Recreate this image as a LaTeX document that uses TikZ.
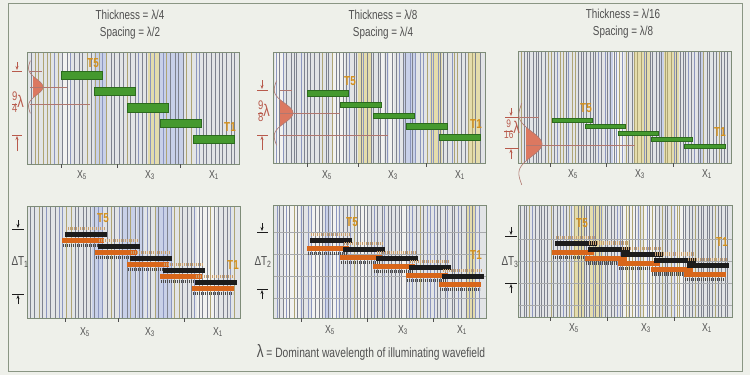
\documentclass[tikz,border=0pt]{standalone}
\usepackage{fontspec}
\setmainfont{Liberation Sans}[FakeStretch=0.76]
\usetikzlibrary{arrows.meta}
\definecolor{bgc}{HTML}{EEF0EA}
\definecolor{framec}{HTML}{8A9684}
\definecolor{panelbg}{HTML}{E2E4E6}
\definecolor{panelborder}{HTML}{7E8C78}
\definecolor{trA}{HTML}{7E828E}
\definecolor{trB}{HTML}{8C96BE}
\definecolor{trC}{HTML}{AEA474}
\definecolor{bandB}{HTML}{C8D0E8}
\definecolor{bandY}{HTML}{E4DCAC}
\definecolor{bandW}{HTML}{F2F2F0}
\definecolor{barfill}{HTML}{45992E}
\definecolor{bardraw}{HTML}{2C6A1E}
\definecolor{tcol}{HTML}{D4901C}
\definecolor{redc}{HTML}{B85A4C}
\definecolor{redfill}{HTML}{DC7860}
\definecolor{redline}{HTML}{B07870}
\definecolor{txt}{HTML}{505050}
\definecolor{blk}{HTML}{1C1C1C}
\definecolor{orb}{HTML}{D8661A}
\definecolor{fringeT}{HTML}{C8A070}
\definecolor{fringeG}{HTML}{4A4A4A}
\definecolor{gridc}{HTML}{A8AAAC}
\pgfmathdeclarerandomlist{tracecols}{{trA}{trB}{trA}{trC}{trA}}
\pgfmathdeclarerandomlist{bandcols}{{bandB}{bandY}{bandW}}
\newcommand\tracefield[6]{%
  \fill[panelbg] (#1,#2) rectangle (#3,#4);
  \pgfmathsetseed{#6}
  \foreach \k in {1,...,8}{
    \pgfmathsetmacro\bx{#1+rnd*(#3-#1-16)}
    \pgfmathsetmacro\bw{4+rnd*12}
    \pgfmathrandomitem\bc{bandcols}
    \fill[\bc] (\bx,#2) rectangle (\bx+\bw,#4);
  }
  \pgfmathtruncatemacro\nn{(#3-#1)/#5-1}
  \foreach \k in {1,...,\nn}{
    \pgfmathsetmacro\xx{#1+\k*#5+(rnd-0.5)*#5*0.5}
    \pgfmathrandomitem\cc{tracecols}
    \draw[\cc,line width=0.85pt] (\xx,#2) -- (\xx,#4);
  }
}
\newcommand\wavelet[4]{% axis x, amplitude, center y, scale
  \fill[redfill] plot[domain=-0.707:0.707,samples=30,variable=\t]
    ({#1+#2*(1-2*\t*\t)*exp(-\t*\t)},{#3+#4*\t}) -- cycle;
  \draw[redline,line width=0.6pt] plot[domain=-1.7:1.7,samples=70,variable=\t]
    ({#1+#2*(1-2*\t*\t)*exp(-\t*\t)},{#3+#4*\t});
}
\newcommand\seisstep[5]{% x, y, width, orange offset, thickness
  \draw[fringeT,line width=3.5pt,dash pattern=on 0.8pt off 1.2pt] (#1+1,#2-3.5) -- (#1+#3-2,#2-3.5);
  \fill[orb] (#1-3,#2+#4) rectangle (#1+#3-3,#2+#4+#5);
  \fill[blk] (#1,#2) rectangle (#1+#3,#2+#5);
  \draw[fringeG,line width=3.5pt,dash pattern=on 0.8pt off 1.2pt] (#1-2,#2+#4+#5+2.5) -- (#1+#3-4,#2+#4+#5+2.5);
}
\newcommand\fracl[3]{{\renewcommand\arraystretch{0.9}\fontsize{#3}{#3}\selectfont\begin{tabular}{@{}c@{}}#1\\\hline #2\end{tabular}}}
\begin{document}
\begin{tikzpicture}[x=1pt,y=-1pt,
  titletext/.style={text=txt,font=\fontsize{13}{15}\selectfont,inner sep=0pt},
  xlab/.style={text=txt,font=\fontsize{11.5}{13}\selectfont,inner sep=0pt},
  tlab/.style={text=tcol,font=\fontsize{13}{14}\bfseries\selectfont,inner sep=0pt},
  dlab/.style={text=txt,font=\fontsize{13}{14}\selectfont,inner sep=0pt},
  flab/.style={text=redc,font=\fontsize{17}{17}\selectfont,inner sep=0pt},
  bar/.style={fill=barfill,draw=bardraw,line width=0.5pt},
  box/.style={draw=panelborder,line width=1pt},
  tick/.style={draw=txt,line width=0.6pt},
  rdim/.style={draw=redc,line width=0.7pt},
  kdim/.style={draw=blk,line width=0.7pt},
  dimarrow/.style={-{Stealth[length=4pt,width=3pt]}},
  refl/.style={draw=redline,line width=0.6pt}]
\fill[bgc] (0,0) rectangle (750,375);
\useasboundingbox (0,0) rectangle (750,375);
\draw[framec,line width=0.8pt] (8,3) rectangle (742,371);

% ---------- titles ----------
\node[titletext] (th1) at (130,15) {Thickness = λ/4};
\node[titletext] (sp1) at (130,33) {Spacing = λ/2};
\node[titletext] (th2) at (383,15) {Thickness = λ/8};
\node[titletext] (sp2) at (383,33) {Spacing = λ/4};
\node[titletext] (th3) at (623,14) {Thickness = λ/16};
\node[titletext] (sp3) at (623,32) {Spacing = λ/8};

% ---------- top panel 1 ----------
\tracefield{27}{52}{239}{164}{4}{11}
\draw[box] (27,52) rectangle (239,164);
\draw[bar] (61,71) rectangle (102,79) (94,87) rectangle (135,95) (127,103) rectangle (168,112) (160,119) rectangle (201,127) (193,135) rectangle (234,143);
\wavelet{33}{10}{87}{15.5}
\draw[refl] (30,71) -- (42,71) (30,87) -- (67,87) (30,104) -- (90,104);
\node[tlab] (a5) at (93,63) {T5};
\node[tlab] (a1) at (230,127) {T1};
\draw[rdim] (12,71) -- (22,71) (12,135) -- (22,135);
\draw[rdim,dimarrow] (17,62) -- (17,70);
\draw[rdim,dimarrow] (17,151) -- (17,136);
\node[flab] (f1) at (18,104) {\fracl{9}{4}{12.5}λ};
\draw[tick] (61,164) -- (61,168) (117,164) -- (117,168) (180,164) -- (180,168);
\node[xlab] (ax5) at (82,175) {X\textsubscript{5}};
\node[xlab] (ax3) at (150,175) {X\textsubscript{3}};
\node[xlab] (ax1) at (214,175) {X\textsubscript{1}};

% ---------- top panel 2 ----------
\tracefield{273}{52}{485}{163}{3.5}{23}
\draw[box] (273,52) rectangle (485,163);
\draw[bar] (307,90) rectangle (348,96) (340,102) rectangle (381,107) (373,113) rectangle (414,118) (406,123) rectangle (447,129) (439,134) rectangle (480,140);
\wavelet{280}{13}{113}{19}
\draw[refl] (280,90) -- (292,90) (280,113) -- (340,113) (280,135) -- (388,135);
\node[tlab] (b5) at (350,81) {T5};
\node[tlab] (b1) at (476,124) {T1};
\draw[rdim] (257,90) -- (268,90) (257,135) -- (268,135);
\draw[rdim,dimarrow] (262,80) -- (262,89);
\draw[rdim,dimarrow] (262,150) -- (262,136);
\node[flab] (f2) at (264,113) {\fracl{9}{8}{12.5}λ};
\draw[tick] (307,163) -- (307,167) (358,163) -- (358,167) (426,163) -- (426,167);
\node[xlab] (bx5) at (327,175) {X\textsubscript{5}};
\node[xlab] (bx3) at (393,175) {X\textsubscript{3}};
\node[xlab] (bx1) at (460,175) {X\textsubscript{1}};

% ---------- top panel 3 ----------
\tracefield{518}{51}{731}{163}{3}{37}
\draw[box] (518,51) rectangle (731,163);
\draw[bar] (552,118) rectangle (592,122) (585,124) rectangle (625,128) (618,131) rectangle (658,135) (651,137) rectangle (692,141) (684,144) rectangle (725,148);
\wavelet{526}{16}{144}{24}
\draw[refl] (520,117) -- (539,117) (526,145) -- (635,145);
\node[tlab] (c5) at (586,108) {T5};
\node[tlab] (c1) at (720,132) {T1};
\draw[rdim] (505,117) -- (519,117) (505,148) -- (519,148);
\draw[rdim,dimarrow] (511,108) -- (511,116);
\draw[rdim,dimarrow] (511,159) -- (511,149);
\node[flab] (f3) at (512,131) {\fracl{9}{16}{11}λ};
\draw[tick] (550,163) -- (550,167) (606,163) -- (606,167) (673,163) -- (673,167);
\node[xlab] (cx5) at (573,174) {X\textsubscript{5}};
\node[xlab] (cx3) at (640,174) {X\textsubscript{3}};
\node[xlab] (cx1) at (707,174) {X\textsubscript{1}};

% ---------- bottom panel 1 ----------
\tracefield{27}{206}{240}{318}{4}{53}
\foreach \i in {0,...,4}{
  \seisstep{65+32.5*\i}{232+12*\i}{42}{6}{5}
}
\draw[box] (27,206) rectangle (240,318);
\node[tlab] (d5) at (103,218) {T5};
\node[tlab] (d1) at (233,265) {T1};
\draw[kdim] (12,229) -- (24,229) (12,294) -- (24,294);
\draw[kdim,dimarrow] (18,220) -- (18,228);
\draw[kdim,dimarrow] (18,304) -- (18,295);
\node[dlab] (dt1) at (20,262) {ΔT\textsubscript{1}};
\draw[tick] (65,318) -- (65,322) (118,318) -- (118,322) (184,318) -- (184,322);
\node[xlab] (dx5) at (85,332) {X\textsubscript{5}};
\node[xlab] (dx3) at (150,332) {X\textsubscript{3}};
\node[xlab] (dx1) at (218,332) {X\textsubscript{1}};

% ---------- bottom panel 2 ----------
\tracefield{273}{205}{486}{318}{3.5}{71}
\foreach \y in {232,254,276,298}{\draw[gridc,line width=0.4pt] (273,\y) -- (486,\y);}
\foreach \i in {0,...,4}{
  \seisstep{310+33*\i}{238+9*\i}{42}{8}{5}
}
\draw[box] (273,205) rectangle (486,318);
\node[tlab] (e5) at (352,222) {T5};
\node[tlab] (e1) at (476,255) {T1};
\draw[kdim] (257,232) -- (268,232) (257,289) -- (268,289);
\draw[kdim,dimarrow] (262,223) -- (262,231);
\draw[kdim,dimarrow] (262,299) -- (262,290);
\node[dlab] (dt2) at (263,262) {ΔT\textsubscript{2}};
\draw[tick] (301,318) -- (301,322) (367,318) -- (367,322) (433,318) -- (433,322);
\node[xlab] (ex5) at (330,330) {X\textsubscript{5}};
\node[xlab] (ex3) at (403,330) {X\textsubscript{3}};
\node[xlab] (ex1) at (462,330) {X\textsubscript{1}};

% ---------- bottom panel 3 ----------
\tracefield{518}{205}{732}{317}{3}{97}
\foreach \y in {239,261,283,305}{\draw[gridc,line width=0.4pt] (518,\y) -- (732,\y);}
\foreach \i in {0,...,4}{
  \seisstep{555+33*\i}{241+5.5*\i}{42}{9}{5}
}
\draw[box] (518,205) rectangle (732,317);
\node[tlab] (g5) at (582,223) {T5};
\node[tlab] (g1) at (722,242) {T1};
\draw[kdim] (505,236) -- (517,236) (505,283) -- (517,283);
\draw[kdim,dimarrow] (511,227) -- (511,235);
\draw[kdim,dimarrow] (511,293) -- (511,284);
\node[dlab] (dt3) at (510,262) {ΔT\textsubscript{3}};
\draw[tick] (550,317) -- (550,321) (607,317) -- (607,321) (674,317) -- (674,321);
\node[xlab] (gx5) at (574,328) {X\textsubscript{5}};
\node[xlab] (gx3) at (646,328) {X\textsubscript{3}};
\node[xlab] (gx1) at (707,328) {X\textsubscript{1}};

% ---------- footer ----------
\node[text=txt,font=\fontsize{13.5}{14}\selectfont,inner sep=0pt] (foot) at (371,352) {{\fontsize{18}{18}\selectfont λ} = Dominant wavelength of illuminating wavefield};
\end{tikzpicture}
\end{document}
